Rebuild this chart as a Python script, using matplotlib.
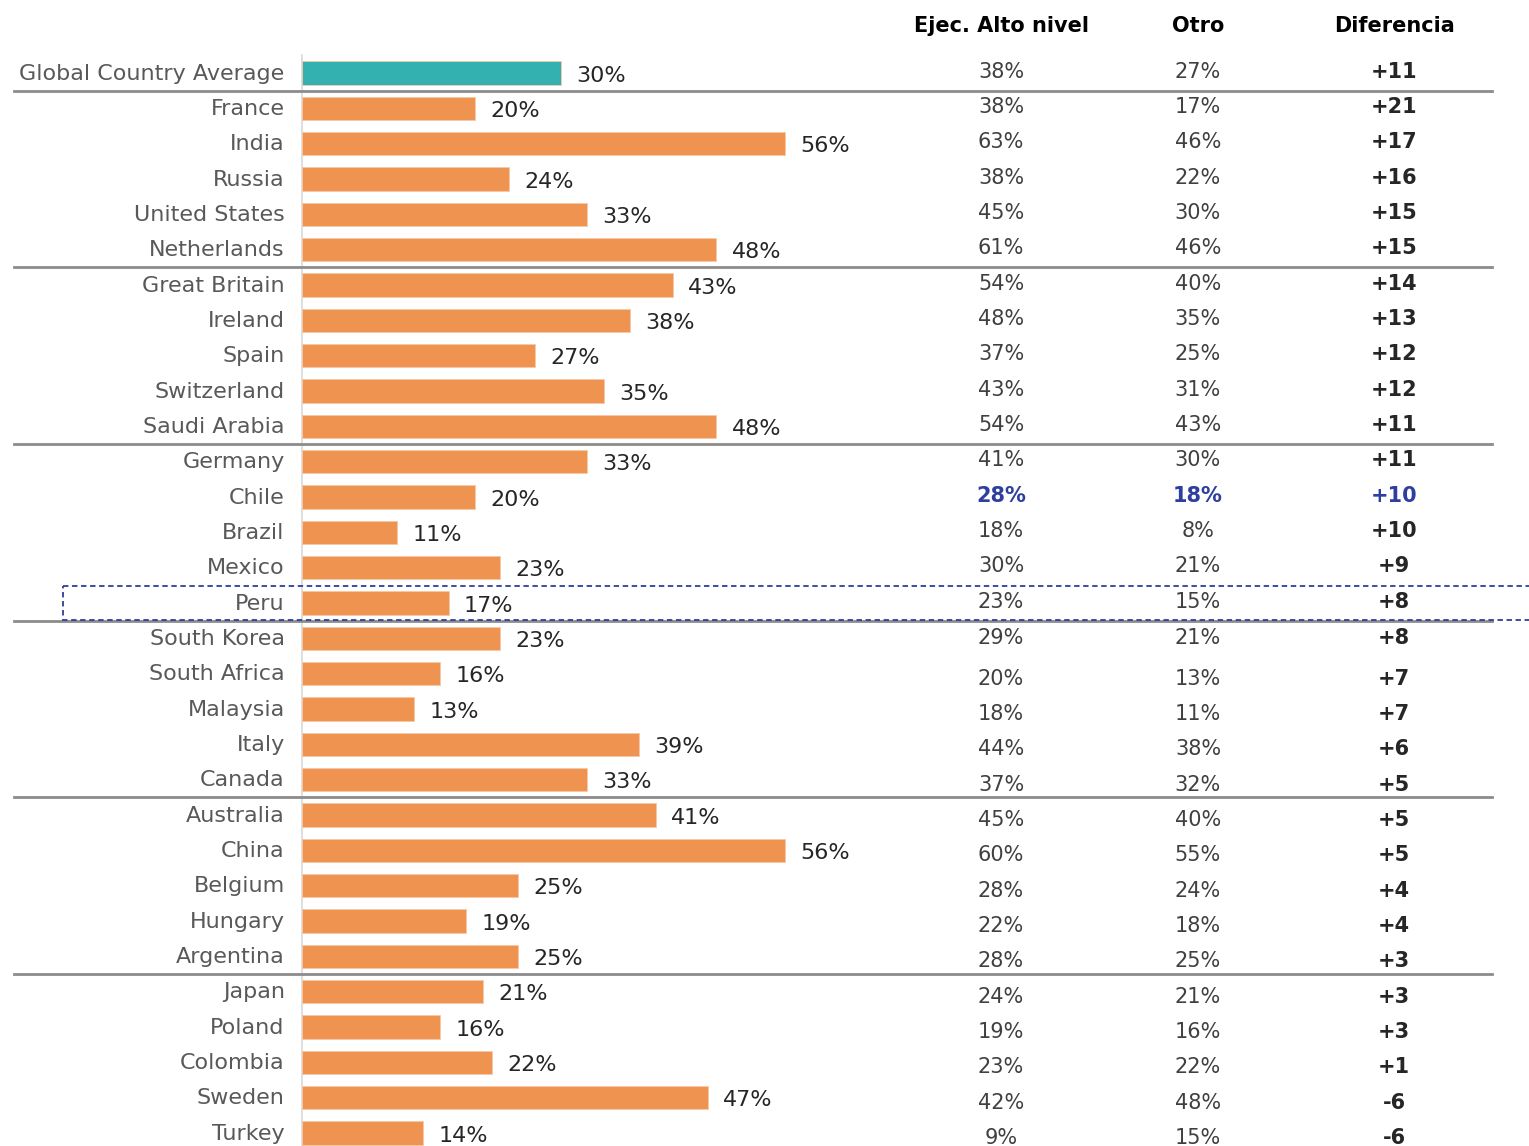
import matplotlib
matplotlib.use("Agg")
import matplotlib.pyplot as plt
from matplotlib.transforms import blended_transform_factory
from matplotlib.patches import Rectangle

plt.rcParams['font.family'] = ['DejaVu Sans']

countries = ["Global Country Average", "France", "India", "Russia", "United States",
             "Netherlands", "Great Britain", "Ireland", "Spain", "Switzerland",
             "Saudi Arabia", "Germany", "Chile", "Brazil", "Mexico", "Peru",
             "South Korea", "South Africa", "Malaysia", "Italy", "Canada",
             "Australia", "China", "Belgium", "Hungary", "Argentina", "Japan",
             "Poland", "Colombia", "Sweden", "Turkey"]
values = [30, 20, 56, 24, 33, 48, 43, 38, 27, 35, 48, 33, 20, 11, 23, 17,
          23, 16, 13, 39, 33, 41, 56, 25, 19, 25, 21, 16, 22, 47, 14]
ejec = [38, 38, 63, 38, 45, 61, 54, 48, 37, 43, 54, 41, 28, 18, 30, 23,
        29, 20, 18, 44, 37, 45, 60, 28, 22, 28, 24, 19, 23, 42, 9]
otro = [27, 17, 46, 22, 30, 46, 40, 35, 25, 31, 43, 30, 18, 8, 21, 15,
        21, 13, 11, 38, 32, 40, 55, 24, 18, 25, 21, 16, 22, 48, 15]
diferencia = [11, 21, 17, 16, 15, 15, 14, 13, 12, 12, 11, 11, 10, 10, 9, 8,
              8, 7, 7, 6, 5, 5, 5, 4, 4, 3, 3, 3, 1, -6, -6]
headers = ["Ejec. Alto nivel", "Otro", "Diferencia"]

highlight_row = "Chile"
boxed_row = "Peru"

W, H = 1529, 1146
fig = plt.figure(figsize=(W / 100, H / 100), dpi=100)

# axes: x=0 at pixel 302, 1% = 8.63 px ; rows 35.33 px apart, first row at y=73
px_per_pct = 8.63
row_h = 35.33
y0 = 73
ax = fig.add_axes([302 / W, 0, 1 - 302 / W, 1])
ax.set_xlim(0, (W - 302) / px_per_pct)
ax.set_ylim((H - y0) / row_h, -y0 / row_h)
ax.axis("off")

orange = "#EE9350"
teal = "#33B1B1"
blue = "#2E3F9E"
colors = [teal] + [orange] * (len(countries) - 1)
rows = list(range(len(countries)))

ax.barh(rows, values, height=0.66, color=colors, edgecolor="#F7C9A6", linewidth=0.6, zorder=3)

for i, (name, v) in enumerate(zip(countries, values)):
    ax.text(-2.0, i + 0.02, name, ha="right", va="center", fontsize=16, color="#595959")
    ax.annotate(f"{v}%", (v, i), xytext=(11, -2), textcoords="offset points",
                ha="left", va="center", fontsize=16, color="#262626")

# table columns
fx = blended_transform_factory(fig.transFigure, ax.transData)
col_x = [1001 / W, 1198 / W, 1394 / W]
for x, h in zip(col_x, headers):
    ax.text(x, -1.33, h, transform=fx, ha="center", va="center", fontsize=15,
            fontweight="bold", color="black")

for i in rows:
    hl = countries[i] == highlight_row
    c = blue if hl else "#404040"
    w = "bold" if hl else "normal"
    # the table rows drift a little below the bars in the lower part
    ty = i - 0.04 if i < 16 else (i if i == 16 else i + 0.14)
    ax.text(col_x[0], ty, f"{ejec[i]}%", transform=fx, ha="center", va="center",
            fontsize=15, color=c, fontweight=w)
    ax.text(col_x[1], ty, f"{otro[i]}%", transform=fx, ha="center", va="center",
            fontsize=15, color=c, fontweight=w)
    ax.text(col_x[2], ty, f"{diferencia[i]:+d}", transform=fx, ha="center", va="center",
            fontsize=15, color=blue if hl else "#262626", fontweight="bold")

# group separators
for sep in [0.5, 5.5, 10.5, 15.5, 20.5, 25.5]:
    ax.plot([14 / W, 1492 / W], [sep, sep], transform=fx, color="#8C8C8C",
            lw=2.0, clip_on=False, zorder=4)

# vertical axis line
ax.plot([0, 0], [-0.5, len(countries)], color="#D9D9D9", lw=1.2, zorder=2, clip_on=False)

# dashed box round Peru
pi = countries.index(boxed_row)
box = Rectangle((63 / W, pi - 0.47), 1.2, 0.94, transform=fx, fill=False,
                edgecolor=blue, linestyle=(0, (3, 2)), lw=1.3, zorder=5, clip_on=False)
ax.add_patch(box)

fig.savefig("out.png", dpi=100)
